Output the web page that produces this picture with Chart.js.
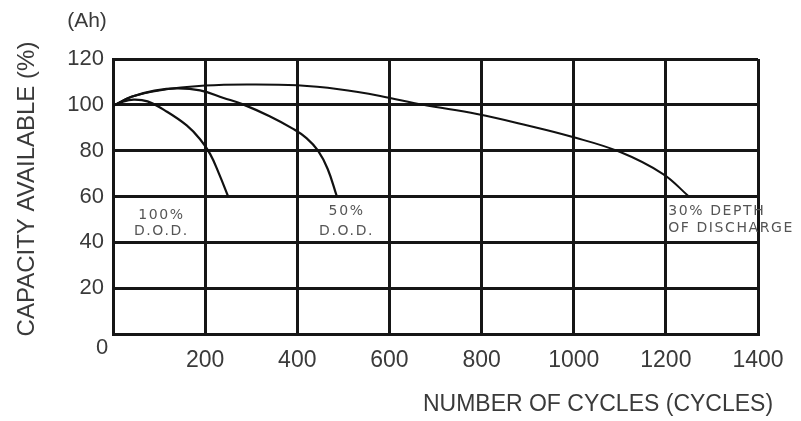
<!DOCTYPE html>
<html>
<head>
<meta charset="utf-8">
<script src="https://cdn.jsdelivr.net/npm/chart.js@4/dist/chart.umd.min.js"></script>
<style>
html,body{margin:0;padding:0;background:#fff;}
canvas{display:block;}
</style>
</head>
<body>
<canvas id="c" width="801" height="421"></canvas>
<script>
// ---- data ----
const xTicks = [0, 200, 400, 600, 800, 1000, 1200, 1400];
const yTicks = [0, 20, 40, 60, 80, 100, 120];

const dod100Cycles = [0, 20, 45, 75, 117, 160, 189, 211, 230, 250];
const dod100Cap    = [99.5, 101.3, 102.3, 101.5, 97, 91, 85, 78.5, 70, 60];

const dod50Cycles  = [0, 40, 90, 140, 189, 240, 282, 340, 391, 420, 445, 466, 486];
const dod50Cap     = [99.5, 103.5, 106.2, 107.2, 106.3, 103, 100.2, 95, 89.5, 85.5, 80, 72, 60];

const dod30Cycles  = [0, 40, 100, 200, 300, 400, 490, 580, 673, 790, 900, 992, 1101, 1194, 1250];
const dod30Cap     = [99.5, 103.5, 106.3, 108.4, 108.9, 108.5, 106.8, 103.9, 100, 96, 91, 86.3, 79.4, 69.8, 60];

const seriesNames = ['100% D.O.D.', '50% D.O.D.', '30% DEPTH OF DISCHARGE'];

function pts(xs, ys){ return xs.map((x,i)=>({x:x, y:ys[i]})); }

const FONT = "'Liberation Sans', Arial, sans-serif";
const TXT = '#3a3a3a';

const textPlugin = {
  id: 'texts',
  afterDraw(chart){
    const ctx = chart.ctx;
    const xs = chart.scales.x, ys = chart.scales.y;
    ctx.save();
    ctx.fillStyle = TXT;
    ctx.textAlign = 'center'; ctx.textBaseline = 'middle';
    ctx.font = "21px " + FONT;
    ctx.fillText('(Ah)', 87, 21);
    ctx.font = "22px " + FONT;
    ctx.fillText('0', 102, 348);
    ctx.font = "23px " + FONT;
    ctx.fillText('NUMBER OF CYCLES (CYCLES)', 598, 405);
    ctx.save();
    ctx.translate(27, 189);
    ctx.rotate(-Math.PI/2);
    ctx.font = "24px " + FONT;
    ctx.fillText('CAPACITY AVAILABLE (%)', 0, 0);
    ctx.restore();
    // curve annotations
    ctx.fillStyle = '#555';
    ctx.font = "14px 'DejaVu Sans', sans-serif";
    ctx.letterSpacing = '1.6px';
    const y60 = ys.getPixelForValue(60);
    ctx.textAlign = 'center';
    let x = xs.getPixelForValue(105);
    ctx.fillText('100%', x, y60 + 19);
    ctx.fillText('D.O.D.', x, y60 + 35);
    x = xs.getPixelForValue(507);
    ctx.fillText('50%', x, y60 + 15);
    ctx.fillText('D.O.D.', x, y60 + 35);
    ctx.textAlign = 'left';
    x = xs.getPixelForValue(1205);
    ctx.fillText('30% DEPTH', x, y60 + 15);
    ctx.fillText('OF DISCHARGE', x, y60 + 32);
    ctx.restore();
  }
};

const lineStyle = {
  borderColor: '#111',
  borderWidth: 2.2,
  pointRadius: 0,
  fill: false,
  tension: 0.4
};

new Chart(document.getElementById('c'), {
  type: 'line',
  data: {
    datasets: [
      Object.assign({label: seriesNames[0], data: pts(dod100Cycles, dod100Cap)}, lineStyle),
      Object.assign({label: seriesNames[1], data: pts(dod50Cycles, dod50Cap)}, lineStyle),
      Object.assign({label: seriesNames[2], data: pts(dod30Cycles, dod30Cap)}, lineStyle, {borderWidth: 2})
    ]
  },
  options: {
    responsive: false,
    devicePixelRatio: 1,
    animation: false,
    layout: { padding: { left: 0, top: 59, right: 43, bottom: 0 } },
    plugins: { legend: { display: false }, tooltip: { enabled: false } },
    scales: {
      x: {
        type: 'linear',
        min: xTicks[0], max: xTicks[xTicks.length-1],
        afterBuildTicks(s){ s.ticks = xTicks.map(v=>({value:v})); },
        afterFit(s){ s.height = 87; },
        grid: { color: '#161616', lineWidth: 3, drawTicks: false },
        border: { display: true, color: '#161616', width: 3 },
        ticks: {
          padding: 13,
          color: TXT,
          font: { family: FONT, size: 23 },
          maxRotation: 0,
          callback: v => v === 0 ? '' : String(v)
        }
      },
      y: {
        type: 'linear',
        min: yTicks[0], max: yTicks[yTicks.length-1],
        afterBuildTicks(s){ s.ticks = yTicks.map(v=>({value:v})); },
        afterFit(s){ s.width = 113; },
        grid: { color: '#161616', lineWidth: 3, drawTicks: false },
        border: { display: true, color: '#161616', width: 3 },
        ticks: {
          padding: 9,
          color: TXT,
          font: { family: FONT, size: 22 },
          callback: v => v === 0 ? '' : String(v)
        }
      }
    }
  },
  plugins: [textPlugin]
});
</script>
</body>
</html>
